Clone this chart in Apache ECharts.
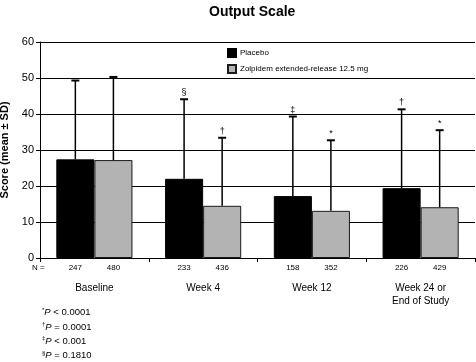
<!DOCTYPE html>
<html>
<head>
<meta charset="utf-8">
<script src="https://cdn.jsdelivr.net/npm/echarts@6/dist/echarts.min.js"></script>
<style>
  html, body { margin: 0; padding: 0; background: #fff; }
  #chart { width: 476px; height: 362px; }
</style>
</head>
<body>
<div id="chart"></div>
<script>
// 数据
const categories = ['Baseline', 'Week 4', 'Week 12', 'Week 24 or\nEnd of Study']
const placeboMean = [27.4, 22.0, 17.2, 19.4]
const placeboSD = [21.9, 22.1, 22.1, 21.9]
const zolpidemMean = [27.2, 14.5, 13.1, 14.1]
const zolpidemSD = [23.1, 18.9, 19.6, 21.4]
const placeboN = [247, 233, 158, 226]
const zolpidemN = [480, 436, 352, 429]
const placeboMark = ['', '§', '‡', '†']
const zolpidemMark = ['', '†', '*', '*']
const footSymbols = ['*', '†', '‡', '§']
const footTexts = [' < 0.0001', ' = 0.0001', ' < 0.001', ' = 0.1810']

const FONT = 'Liberation Sans, Arial, sans-serif'
const chart = echarts.init(document.getElementById('chart'))

// 误差线（只画上半部分）+ 显著性标记
function errorSeries(name, means, sds, marks, side) {
  return {
    name: name + '-err',
    type: 'custom',
    z: 5,
    data: means.map((m, i) => [i, m, m + sds[i]]),
    renderItem: function (params, api) {
      const i = api.value(0)
      const band = api.size([1, 0])[0]
      const x = api.coord([i, 0])[0] + side * band * 0.175
      const y0 = api.coord([i, api.value(1)])[1]
      const y1 = api.coord([i, api.value(2)])[1]
      const mark = marks[i]
      const children = [
        { type: 'line', shape: { x1: x, y1: y0, x2: x, y2: y1 }, style: { stroke: '#000', lineWidth: 1.5 } },
        { type: 'line', shape: { x1: x - 4, y1: y1, x2: x + 4, y2: y1 }, style: { stroke: '#000', lineWidth: 2 } }
      ]
      if (mark) {
        children.push({
          type: 'text',
          style: { text: mark, x: x, y: y1 - 2, textAlign: 'center', textVerticalAlign: 'bottom', font: '9px ' + FONT, fill: '#000' }
        })
      }
      return { type: 'group', children: children }
    }
  }
}

const footRich = {
  sup: { fontSize: 6, fontFamily: FONT, verticalAlign: 'top', padding: [0, 0, 5, 0] },
  p: { fontSize: 9.5, fontFamily: FONT, fontStyle: 'italic' },
  t: { fontSize: 9.5, fontFamily: FONT }
}

const option = {
  backgroundColor: '#fff',
  animation: false,
  textStyle: { fontFamily: FONT, color: '#000' },
  title: {
    text: 'Output Scale',
    left: 204,
    top: 0,
    textStyle: { fontSize: 14, fontWeight: 'bold', color: '#000', fontFamily: FONT }
  },
  legend: {
    data: ['Placebo', 'Zolpidem extended-release 12.5 mg'],
    orient: 'vertical',
    left: 227,
    top: 48,
    padding: 0,
    itemWidth: 8,
    itemHeight: 8,
    itemGap: 6,
    icon: 'rect',
    textStyle: { fontSize: 8, color: '#000', fontFamily: FONT, padding: [0, 0, 0, -1] }
  },
  grid: { left: 40, right: 1, top: 42, bottom: 104, outerBoundsMode: 'none' },
  xAxis: {
    type: 'category',
    data: categories,
    axisLine: { lineStyle: { color: '#000', width: 1 } },
    axisTick: { show: true, length: 4, lineStyle: { color: '#000' } },
    axisLabel: { margin: 24, fontSize: 10, color: '#000', lineHeight: 13, fontFamily: FONT, verticalAlign: 'top' }
  },
  yAxis: {
    type: 'value',
    min: 0,
    max: 60,
    interval: 10,
    name: 'Score (mean ± SD)',
    nameLocation: 'middle',
    nameGap: 26,
    nameTextStyle: { fontSize: 11, fontWeight: 'bold', color: '#000', fontFamily: FONT },
    axisLine: { show: true, lineStyle: { color: '#000', width: 1 } },
    axisTick: { show: true, length: 4, lineStyle: { color: '#000' } },
    axisLabel: { fontSize: 11, color: '#000', margin: 6, fontFamily: FONT },
    splitLine: { lineStyle: { color: '#000', width: 1 } }
  },
  series: [
    {
      name: 'Placebo',
      type: 'bar',
      barGap: 0,
      barCategoryGap: '30%',
      data: placeboMean,
      itemStyle: { color: '#000', borderColor: '#000', borderWidth: 1 },
      label: {
        show: true, position: 'bottom', distance: 6, fontSize: 8, color: '#000', fontFamily: FONT,
        formatter: p => placeboN[p.dataIndex]
      }
    },
    {
      name: 'Zolpidem extended-release 12.5 mg',
      type: 'bar',
      data: zolpidemMean,
      itemStyle: { color: '#b3b3b3', borderColor: '#1a1a1a', borderWidth: 1 },
      label: {
        show: true, position: 'bottom', distance: 6, fontSize: 8, color: '#000', fontFamily: FONT,
        formatter: p => zolpidemN[p.dataIndex]
      }
    },
    errorSeries('Placebo', placeboMean, placeboSD, placeboMark, -1),
    errorSeries('Zolpidem', zolpidemMean, zolpidemSD, zolpidemMark, 1)
  ],
  graphic: [
    { type: 'text', left: 32, top: 264, style: { text: 'N =', font: '8px ' + FONT, fill: '#000' } }
  ].concat(footSymbols.map((s, i) => ({
    type: 'text',
    left: 42,
    top: 307 + i * 14.4,
    style: {
      text: '{sup|' + s + '}{p|P}{t|' + footTexts[i] + '}',
      rich: footRich,
      fill: '#000'
    }
  })))
}

chart.setOption(option)
</script>
</body>
</html>
